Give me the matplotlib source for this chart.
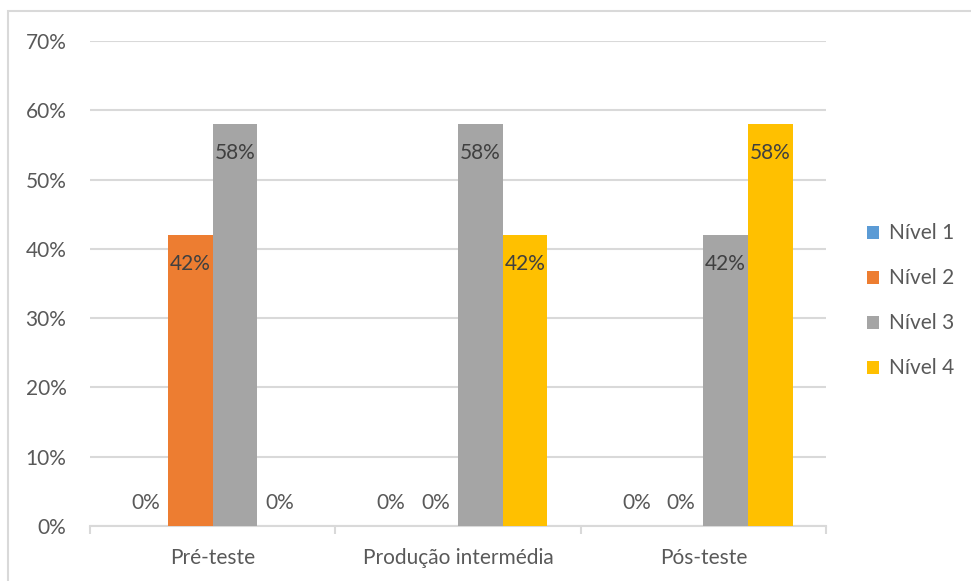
import matplotlib.pyplot as plt
from matplotlib.patches import Rectangle
import numpy as np

plt.rcParams['font.family'] = ['Lato', 'DejaVu Sans']

categories = ['Pré-teste', 'Produção intermédia', 'Pós-teste']
series_names = ['Nível 1', 'Nível 2', 'Nível 3', 'Nível 4']
nivel_1 = [0, 0, 0]
nivel_2 = [42, 0, 0]
nivel_3 = [58, 58, 42]
nivel_4 = [0, 42, 58]
colors = ['#5b9bd5', '#ed7d31', '#a5a5a5', '#ffc000']

text_color = '#595959'
grid_color = '#d9d9d9'
fs = 15

fig = plt.figure(figsize=(9.71, 5.81), dpi=100)
ax = fig.add_axes([90 / 971, 1 - 526 / 581, (826 - 90) / 971, (526 - 41) / 581])

# outer chart border
fig.patches.append(Rectangle((8 / 971, -0.1), 1.2, 1.1 - 11 / 581,
                             transform=fig.transFigure, fill=False,
                             edgecolor=grid_color, linewidth=1.5))

x = np.arange(len(categories))
width = 0.182
all_series = [nivel_1, nivel_2, nivel_3, nivel_4]
for i, (vals, name, color) in enumerate(zip(all_series, series_names, colors)):
    pos = x + (i - 1.5) * width
    ax.bar(pos, vals, width=width, color=color, label=name, zorder=3)
    for p, v in zip(pos, vals):
        if v > 0:
            ax.annotate(f'{v}%', (p, v), xytext=(0, -21), textcoords='offset points',
                        ha='center', va='center', fontsize=fs, color='#404040', zorder=4)
        else:
            ax.annotate(f'{v}%', (p, v), xytext=(0, 16.5), textcoords='offset points',
                        ha='center', va='center', fontsize=fs, color=text_color, zorder=4)

ax.set_xlim(-0.5, 2.5)
ax.set_ylim(0, 70)
ax.set_yticks(range(0, 71, 10))
ax.set_yticklabels([f'{t}%' for t in range(0, 71, 10)])
ax.yaxis.grid(True, color=grid_color, linewidth=1.5, zorder=0)
ax.tick_params(axis='y', length=0, pad=17, labelsize=fs, labelcolor=text_color)

ax.set_xticks(x)
ax.set_xticklabels(categories)
ax.tick_params(axis='x', length=0, pad=16, labelsize=fs, labelcolor=text_color)
ax.set_xticks([-0.5, 0.5, 1.5, 2.5], minor=True)
ax.tick_params(axis='x', which='minor', length=6, width=1.5, color=grid_color)

for side in ['top', 'right', 'left']:
    ax.spines[side].set_visible(False)
ax.spines['bottom'].set_color(grid_color)
ax.spines['bottom'].set_linewidth(1.5)

leg = ax.legend(loc='center left', bbox_to_anchor=(1.03, 0.464), frameon=False,
                fontsize=fs, handlelength=0.6, handleheight=0.6,
                handletextpad=0.45, labelspacing=1.2)
for t in leg.get_texts():
    t.set_color(text_color)

fig.savefig('out.png', dpi=100)
